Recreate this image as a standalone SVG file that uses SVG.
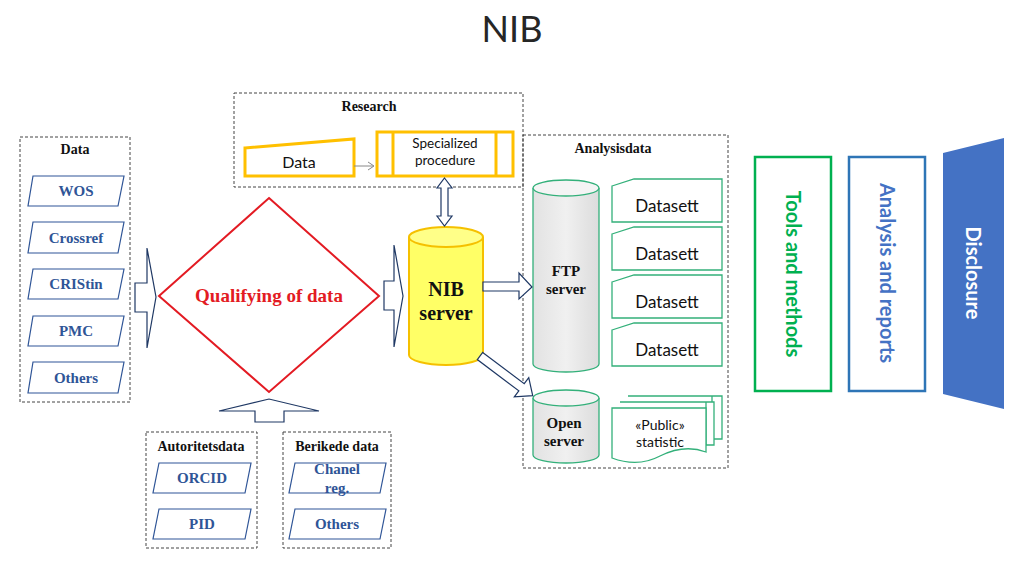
<svg xmlns="http://www.w3.org/2000/svg" width="1024" height="576" viewBox="0 0 1024 576">
<style>
.dash{fill:none;stroke:#444;stroke-width:1;stroke-dasharray:3,2}
.hd{font-family:"Liberation Serif",serif;font-weight:bold;font-size:14px;fill:#111;text-anchor:middle}
.para{fill:#fff;stroke:#2F5597;stroke-width:1.2}
.pt{font-family:"Liberation Serif",serif;font-weight:bold;font-size:15px;fill:#2F5597;text-anchor:middle}
.blk{fill:#fff;stroke:#1F3864;stroke-width:1.2}
.gold{fill:#fff;stroke:#FFC000;stroke-width:3}
.sans{font-family:Lato,"Liberation Sans",sans-serif;fill:#111;text-anchor:middle}
.grn{fill:#fff;stroke:#33B07A;stroke-width:1.3}
.srv{font-family:"Liberation Serif",serif;font-weight:bold;font-size:15px;fill:#111;text-anchor:middle}
.vt{font-family:Lato,"Liberation Sans",sans-serif;font-weight:bold;font-size:20px;text-anchor:middle}
</style>
<defs>
<linearGradient id="gg" x1="0" y1="0" x2="1" y2="0">
<stop offset="0" stop-color="#E2E2E2"/><stop offset="0.5" stop-color="#F0F0F0"/><stop offset="1" stop-color="#DCDCDC"/>
</linearGradient>
</defs>
<rect width="1024" height="576" fill="#fff"/>
<text x="512" y="42" font-family="Lato,'Liberation Sans',sans-serif" font-size="36" fill="#262626" text-anchor="middle">NIB</text>

<g id="data-group">
<rect class="dash" x="20" y="137" width="110" height="265"/>
<text class="hd" x="75" y="154">Data</text>
</g>
<g id="wos"><polygon class="para" points="33,176 124,176 118,206 28,206"/><text class="pt" x="76" y="196">WOS</text></g>
<g id="crossref"><polygon class="para" points="33,222 124,222 118,253 28,253"/><text class="pt" x="76" y="243">Crossref</text></g>
<g id="cristin"><polygon class="para" points="33,269 124,269 118,299 28,299"/><text class="pt" x="76" y="289">CRIStin</text></g>
<g id="pmc"><polygon class="para" points="33,316 124,316 118,346 28,346"/><text class="pt" x="76" y="336">PMC</text></g>
<g id="others1"><polygon class="para" points="33,362 124,362 118,393 28,393"/><text class="pt" x="76" y="383">Others</text></g>

<g id="research">
<rect class="dash" x="234" y="93" width="289" height="94"/>
<text class="hd" x="369" y="111">Research</text>
</g>
<g id="research-data"><polygon class="gold" points="245,148 354,139 354,176 245,176"/><text class="sans" x="299" y="168" font-size="16">Data</text></g>
<g id="specialized">
<rect class="gold" x="377" y="132" width="136" height="44"/>
<line x1="393" y1="132" x2="393" y2="176" stroke="#FFC000" stroke-width="3"/>
<line x1="496" y1="132" x2="496" y2="176" stroke="#FFC000" stroke-width="3"/>
<text class="sans" x="445" y="148" font-size="13.5">Specialized</text>
<text class="sans" x="445" y="165" font-size="13.5">procedure</text>
</g>

<g id="qualifying">
<polygon points="269,198 379,296 269,392 159,296" fill="#fff" stroke="#E31B23" stroke-width="2"/>
<text x="269" y="302" font-family="'Liberation Serif',serif" font-weight="bold" font-size="19" fill="#E31B23" text-anchor="middle">Qualifying of data</text>
</g>

<g id="nib-server">
<path d="M409,237 V355 A37,10 0 0 0 483,355 V237" fill="#FFFF66" stroke="#F5C000" stroke-width="2"/>
<ellipse cx="446" cy="237" rx="37" ry="10" fill="#FFFF88" stroke="#F5C000" stroke-width="2"/>
<text x="446" y="296" font-family="'Liberation Serif',serif" font-weight="bold" font-size="20" fill="#111" text-anchor="middle">NIB</text>
<text x="446" y="320" font-family="'Liberation Serif',serif" font-weight="bold" font-size="20" fill="#111" text-anchor="middle">server</text>
</g>

<g id="analysisdata">
<rect class="dash" x="523" y="135" width="205" height="333"/>
<text class="hd" x="613" y="153">Analysisdata</text>
</g>
<g id="ftp-server">
<path d="M533,188 V364 A33,8 0 0 0 599,364 V188" fill="url(#gg)" stroke="#33B07A" stroke-width="1.3"/>
<ellipse cx="566" cy="188" rx="33" ry="8" fill="#F4F4F4" stroke="#33B07A" stroke-width="1.3"/>
<text class="srv" x="566" y="276">FTP</text>
<text class="srv" x="566" y="294">server</text>
</g>
<g id="open-server">
<path d="M533,398 V455 A33,8 0 0 0 599,455 V398" fill="url(#gg)" stroke="#33B07A" stroke-width="1.3"/>
<ellipse cx="566" cy="398" rx="33" ry="8" fill="#F4F4F4" stroke="#33B07A" stroke-width="1.3"/>
<text class="srv" x="564" y="428">Open</text>
<text class="srv" x="564" y="446">server</text>
</g>
<g id="datasett1"><polygon class="grn" points="612,186 634,179 722,179 722,222 612,222"/><text class="sans" x="667" y="212" font-size="17">Datasett</text></g>
<g id="datasett2"><polygon class="grn" points="612,234 634,227 722,227 722,270 612,270"/><text class="sans" x="667" y="260" font-size="17">Datasett</text></g>
<g id="datasett3"><polygon class="grn" points="612,282 634,275 722,275 722,318 612,318"/><text class="sans" x="667" y="308" font-size="17">Datasett</text></g>
<g id="datasett4"><polygon class="grn" points="612,330 634,323 722,323 722,366 612,366"/><text class="sans" x="667" y="356" font-size="17">Datasett</text></g>
<g id="public-statistic">
<path class="grn" d="M628,396 H722 V439 H712 V396 Z"/>
<path class="grn" d="M620,402 H714 V445 H706 V402 Z"/>
<path class="grn" d="M612,408 H706 V452 C690,446 676,448 660,456 C645,464 628,464 612,458 Z"/>
<text class="sans" x="660" y="430" font-size="14">«Public»</text>
<text class="sans" x="660" y="447" font-size="14">statistic</text>
</g>

<g id="autoritetsdata">
<rect class="dash" x="146" y="432" width="111" height="116"/>
<text class="hd" x="201" y="451">Autoritetsdata</text>
</g>
<g id="orcid"><polygon class="para" points="159,463 251,463 245,493 153,493"/><text class="pt" x="202" y="483">ORCID</text></g>
<g id="pid"><polygon class="para" points="159,509 251,509 245,539 153,539"/><text class="pt" x="202" y="529">PID</text></g>
<g id="berikede">
<rect class="dash" x="283" y="432" width="108" height="116"/>
<text class="hd" x="337" y="451">Berikede data</text>
</g>
<g id="chanel"><polygon class="para" points="295,463 386,463 380,493 289,493"/><text class="pt" x="337" y="474">Chanel</text><text class="pt" x="337" y="493">reg.</text></g>
<g id="others2"><polygon class="para" points="295,509 386,509 380,539 289,539"/><text class="pt" x="337" y="529">Others</text></g>

<g id="tools">
<rect x="755" y="157" width="76" height="234" fill="#fff" stroke="#00B050" stroke-width="2.5"/>
<text class="vt" transform="translate(793,274) rotate(90)" y="7" fill="#00B050">Tools and methods</text>
</g>
<g id="analysis-reports">
<rect x="849" y="157" width="76" height="234" fill="#fff" stroke="#2E75B6" stroke-width="2.5"/>
<text class="vt" transform="translate(887,273) rotate(90)" y="7" fill="#4472C4">Analysis and reports</text>
</g>
<g id="disclosure">
<polygon points="943,153 1004,138 1004,409 943,394" fill="#4472C4"/>
<text class="vt" transform="translate(973,273) rotate(90)" y="7" fill="#fff">Disclosure</text>
</g>

<g id="connectors">
<polygon class="blk" points="135,283 147,283 147,248 156,297 147,348 147,312 135,312"/>
<polygon class="blk" points="384,281 394,281 394,245 403,296 394,347 394,310 384,310"/>
<polygon class="blk" points="255,422 255,411 219,411 269,399 319,411 284,411 284,422"/>
<polygon class="blk" points="483,282 519,282 519,273 532,287 519,299 519,291 483,291"/>
<polygon class="blk" points="444.5,178 452,188 448,188 448,216 452,216 444.5,226 437,216 441,216 441,188 437,188"/>
<polygon class="blk" transform="translate(480,356) rotate(37)" points="0,-4.5 52,-4.5 52,-12 66,0 52,12 52,4.5 0,4.5"/>
<line x1="354" y1="166" x2="373" y2="166" stroke="#888" stroke-width="1"/>
<polyline points="368,162 374,166 368,170" fill="none" stroke="#888" stroke-width="1"/>
</g>
</svg>
